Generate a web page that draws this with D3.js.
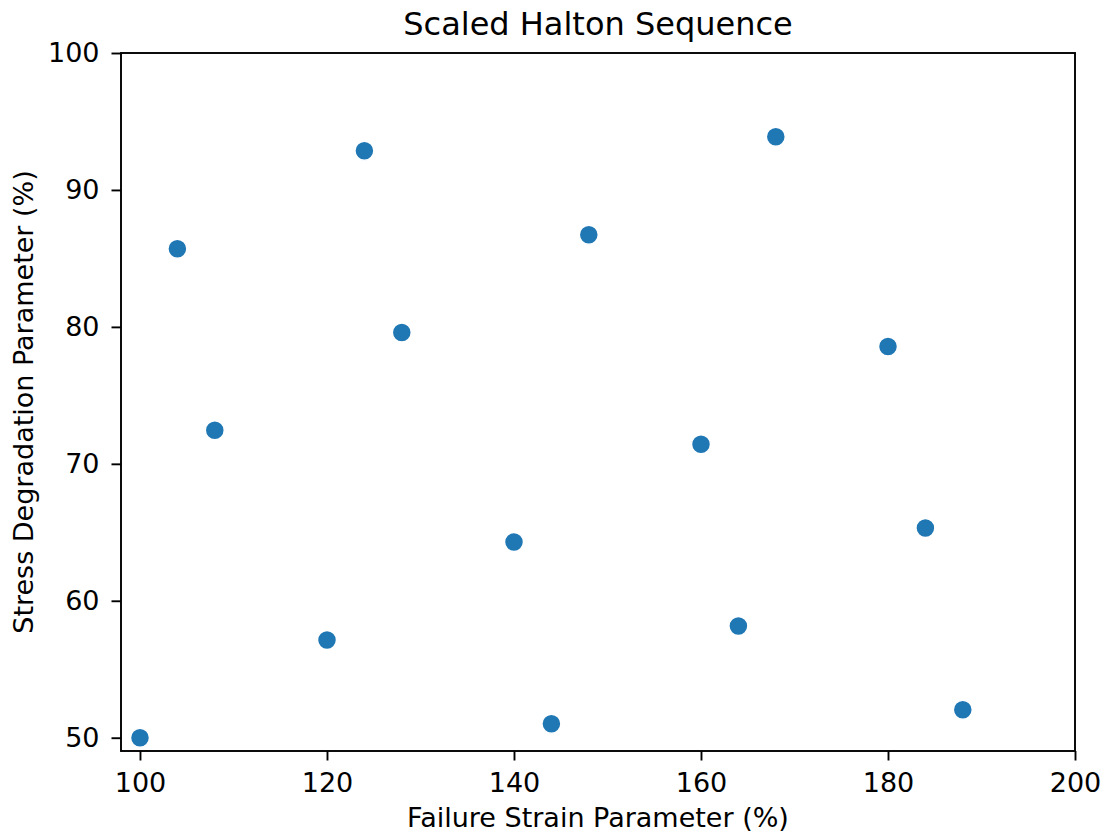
<!DOCTYPE html>
<html>
<head>
	<title>Scaled Halton Sequence</title>
	<script src="https://d3js.org/d3.v7.min.js"></script>
	<style>
		body { margin: 0; background: #fff; }
		text { font-family: "DejaVu Sans", sans-serif; fill: #000; }
	</style>
</head>
<body>
	<script>
		// Data
		var failureStrain = [100, 120, 140, 160, 180, 104, 124, 144, 164, 184, 108, 128, 148, 168, 188];
		var stressDegradation = [50.0, 57.14, 64.29, 71.43, 78.57, 85.71, 92.86, 51.02, 58.16, 65.31, 72.45, 79.59, 86.73, 93.88, 52.04];
		var xTicks = [100, 120, 140, 160, 180, 200];
		var yTicks = [50, 60, 70, 80, 90, 100];

		var points = failureStrain.map(function(d, i) { return {x: d, y: stressDegradation[i]}; });

		// Set the dimensions and margins of the plot
		var margin = {top: 53, right: 30, bottom: 84, left: 121},
		    totalW = 1105, totalH = 835,
		    width = totalW - margin.left - margin.right,
		    height = totalH - margin.top - margin.bottom;

		var svg = d3.select("body")
		  .append("svg")
		    .attr("width", totalW)
		    .attr("height", totalH);

		var g = svg.append("g")
		    .attr("transform", "translate(" + margin.left + "," + margin.top + ")");

		// Scales
		var x = d3.scaleLinear()
		    .domain([97.97, 200])
		    .range([0, width]);

		var y = d3.scaleLinear()
		    .domain([49.03, 100])
		    .range([height, 0]);

		// Axes
		var xAxis = g.append("g")
		    .attr("transform", "translate(0," + height + ")")
		    .call(d3.axisBottom(x).tickValues(xTicks).tickSize(9.5).tickPadding(12));

		var yAxis = g.append("g")
		    .call(d3.axisLeft(y).tickValues(yTicks).tickSize(9.5).tickPadding(12));

		[xAxis, yAxis].forEach(function(a) {
		  a.select(".domain").remove();
		  a.selectAll("line").attr("stroke", "#000").attr("stroke-width", 1.9);
		  a.selectAll("text").style("font-size", "27px").attr("fill", "#000");
		});

		// Frame around the plot area
		g.append("rect")
		    .attr("x", 0)
		    .attr("y", 0)
		    .attr("width", width)
		    .attr("height", height)
		    .attr("fill", "none")
		    .attr("stroke", "#000")
		    .attr("stroke-width", 1.9);

		// Points
		g.selectAll("circle")
		    .data(points)
		    .enter()
		    .append("circle")
		      .attr("cx", function(d) { return x(d.x); })
		      .attr("cy", function(d) { return y(d.y); })
		      .attr("r", 9.5)
		      .attr("fill", "#1f77b4")
		      .attr("stroke", "#fff")
		      .attr("stroke-width", 1.5);

		// Title
		svg.append("text")
		    .attr("text-anchor", "middle")
		    .attr("x", margin.left + width / 2)
		    .attr("y", 35)
		    .style("font-size", "32px")
		    .text("Scaled Halton Sequence");

		// X-axis label
		svg.append("text")
		    .attr("text-anchor", "middle")
		    .attr("x", margin.left + width / 2)
		    .attr("y", 827)
		    .style("font-size", "27px")
		    .text("Failure Strain Parameter (%)");

		// Y-axis label, rotated
		svg.append("text")
		    .attr("text-anchor", "middle")
		    .attr("transform", "translate(32.5," + (margin.top + height / 2) + ") rotate(-90)")
		    .style("font-size", "27px")
		    .text("Stress Degradation Parameter (%)");
	</script>
</body>
</html>
